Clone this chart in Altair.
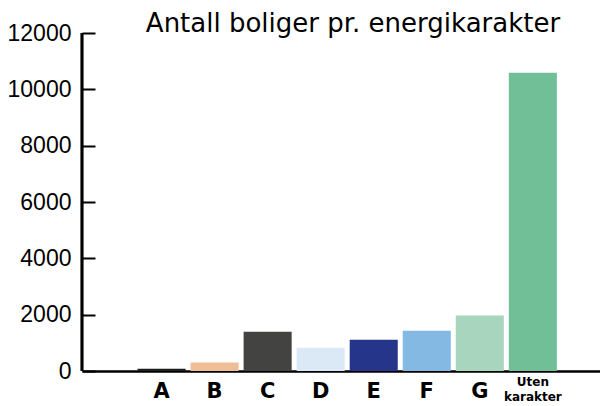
import altair as alt
import pandas as pd

categories = ["A", "B", "C", "D", "E", "F", "G", "Uten karakter"]
values = [80, 300, 1390, 825, 1110, 1430, 1970, 10590]
colors = ["#1e1e1e", "#f0be96", "#434342", "#dbe8f6", "#25368a", "#84b9e3", "#a8d5bd", "#70bf96"]
y_ticks = [0, 2000, 4000, 6000, 8000, 10000, 12000]

df = pd.DataFrame({"kategori": categories, "antall": values})

# empty slots on either side of the bars, as in the original
x_domain = ["pad0"] + categories + ["pad1"]

W = 518
H = 338

bars = alt.Chart(df).mark_bar().encode(
    x=alt.X(
        "kategori:N",
        sort=categories,
        title=None,
        scale=alt.Scale(domain=x_domain, paddingInner=0.094, paddingOuter=0.047, range=[0, 530.4]),
        axis=alt.Axis(
            domain=True,
            domainColor="black",
            domainWidth=2.7,
            ticks=False,
            labelAngle=0,
            labelColor="black",
            labelFont="DejaVu Sans",
            labelFontWeight=600,
            labelFontSize=alt.condition("datum.value == 'Uten karakter'", alt.value(12), alt.value(21)),
            labelPadding=alt.condition("datum.value == 'Uten karakter'", alt.value(5), alt.value(9)),
            labelExpr="datum.value == 'Uten karakter' ? ['Uten', 'karakter'] : (indexof(datum.value, 'pad') == 0 ? '' : datum.value)",
            labelLineHeight=15,
            labelBaseline="top",
        ),
    ),
    y=alt.Y(
        "antall:Q",
        title=None,
        scale=alt.Scale(domain=[0, 12000], nice=False),
        axis=alt.Axis(
            values=y_ticks,
            format="d",
            grid=False,
            domain=False,
            offset=-13,
            tickSize=13,
            tickWidth=2,
            tickColor="black",
            labelColor="black",
            labelFont="Liberation Sans",
            labelFontSize=23,
            labelPadding=11,
        ),
    ),
    color=alt.Color("kategori:N", scale=alt.Scale(domain=categories, range=colors), legend=None),
)

ydomain = alt.Chart(df).mark_rule(color="black", strokeWidth=2.2).encode(
    x=alt.value(0), y=alt.value(0), y2=alt.value(H)
)

chart = alt.layer(bars, ydomain).properties(
    width=W,
    height=H,
    autosize=alt.AutoSizeParams(type="none"),
    padding={"left": 74, "top": 25, "right": 0, "bottom": 35},
    title=alt.TitleParams(
        "Antall boliger pr. energikarakter",
        font="DejaVu Sans",
        fontSize=26,
        fontWeight="normal",
        color="black",
        anchor="middle",
        baseline="alphabetic",
        dx=12,
        dy=40,
    ),
).configure_view(stroke=None)

chart.save("out.html", embed_options={"renderer": "svg", "actions": False})
